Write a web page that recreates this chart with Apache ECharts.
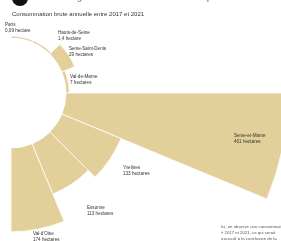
<!DOCTYPE html>
<html><head><meta charset="utf-8">
<script src="https://cdn.jsdelivr.net/npm/echarts@6/dist/echarts.min.js"></script>
<style>html,body{margin:0;padding:0;background:#fff}#c{width:281px;height:241px}</style>
</head><body><div id="c"></div>
<script>
var names = ['Paris','Hauts-de-Seine','Seine-Saint-Denis','Val-de-Marne','Seine-et-Marne','Yvelines','Essonne',"Val-d'Oise"];
var values = [0.09,1.4,29,7,461,133,113,174];
var valueLabels = ['0,09 hectare','1,4 hectare','29 hectares','7 hectares','461 hectares','133 hectares','113 hectares','174 hectares'];
var labelPos = [[5,21],[58,29],[69,45],[70,73],[234,132],[123,164],[87,204],[33,230]];

var chart = echarts.init(document.getElementById('c'), null, {renderer:'canvas'});
var font = '"Liberation Sans Narrow", "Liberation Sans", sans-serif';
var graphics = [
  {type:'circle', z:100, shape:{cx:20, cy:-2, r:8}, style:{fill:'#111'}},
  {type:'text', z:100, left:32, top:-6, style:{text:'Les terres agricoles consommées dans les départements franciliens', font:'bold 8px '+font, fill:'#888'}},
  {type:'text', z:100, left:12, top:11, style:{text:'Consommation brute annuelle entre 2017 et 2021', font:'6px '+font, fill:'#333'}},
  {type:'text', z:100, left:221, top:224, style:{text:'Ici, on observe une consommation\n« 2017 et 2021, ce qui serait\nexcessif à la conclusion de la', font:'4.3px '+font, fill:'#555', lineHeight:6}}
];
names.forEach(function(n,i){
  graphics.push({type:'text', z:100, left:labelPos[i][0], top:labelPos[i][1],
    style:{text:n+'\n'+valueLabels[i], font:'4.6px '+font, fill:'#333', lineHeight:6.5}});
});
chart.setOption({
  animation:false,
  polar:{center:[11,93], radius:[55,277]},
  angleAxis:{type:'category', data:names, startAngle:90, endAngle:-90, clockwise:true,
    axisLine:{show:false}, axisTick:{show:false}, axisLabel:{show:false}, splitLine:{show:false}},
  radiusAxis:{type:'value', min:0, max:461, axisLine:{show:false}, axisTick:{show:false}, axisLabel:{show:false}, splitLine:{show:false}},
  series:[{type:'bar', coordinateSystem:'polar', data:values, barCategoryGap:'0%', barMinHeight:2,
    itemStyle:{color:'#e2cf9a', borderColor:'#fff', borderWidth:0.8}}],
  graphic:graphics
});
</script></body></html>
